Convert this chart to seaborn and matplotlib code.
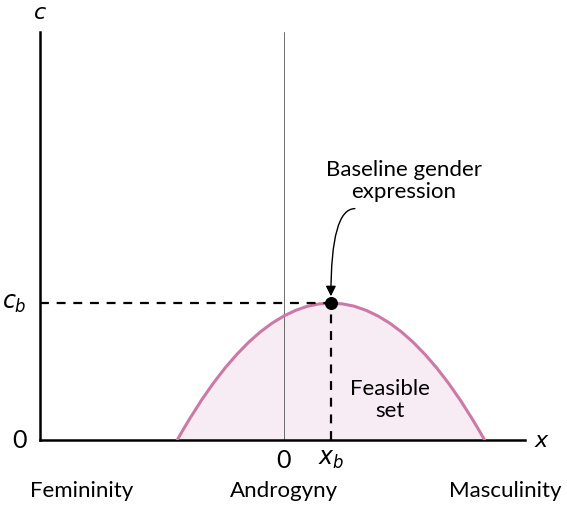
import numpy as np
import pandas as pd
import matplotlib.pyplot as plt
import seaborn as sns

# feasible set boundary (x_b = 1, c_b = 1)
x_vals = [-2.27, -2.15, -2.0, -1.75, -1.5, -1.25, -1.0, -0.75, -0.5, -0.25, 0.0, 0.25, 0.5, 0.75,
          1.0, 1.25, 1.5, 1.75, 2.0, 2.25, 2.5, 2.75, 3.0, 3.25, 3.5, 3.75, 4.0, 4.15, 4.27]
c_vals = [0.0, 0.072, 0.158, 0.293, 0.416, 0.527, 0.626, 0.714, 0.790, 0.854, 0.906, 0.947, 0.977, 0.994,
          1.0, 0.994, 0.977, 0.947, 0.906, 0.854, 0.790, 0.714, 0.626, 0.527, 0.416, 0.293, 0.158, 0.072, 0.0]
x_b = 1.0
c_b = 1.0
x_lim = (-5.19, 5.13)
c_lim = (0, 2.98)
pole_labels = ["Femininity", "Androgyny", "Masculinity"]
pole_pos = [-4.3, 0.0, 4.7]

sns.set_style("white")
plt.rcParams["font.family"] = ["Lato", "DejaVu Sans"]
plt.rcParams["mathtext.fontset"] = "dejavusans"
plt.rcParams["text.color"] = "black"

df = pd.DataFrame({"x": x_vals, "c": c_vals})

fig = plt.figure(figsize=(5.67, 5.06), dpi=100)
ax = fig.add_axes([40 / 567, 65 / 506, 485 / 567, 408 / 506])

line_col = "#cc79a7"
ax.fill_between(df["x"], 0, df["c"], color="#f7ecf3", zorder=1)
sns.lineplot(data=df, x="x", y="c", color=line_col, lw=2.2, ax=ax, zorder=3, sort=False)

ax.axvline(0, color="#555555", lw=0.6, zorder=2)
ax.plot([x_lim[0], x_b], [c_b, c_b], ls=(0, (4, 3.5)), color="black", lw=1.6, zorder=4)
ax.plot([x_b, x_b], [0, c_b], ls=(0, (4, 3.5)), color="black", lw=1.6, zorder=4)
ax.scatter([x_b], [c_b], s=70, color="black", zorder=5)

ax.set_xlim(*x_lim)
ax.set_ylim(*c_lim)
ax.set_xticks([])
ax.set_yticks([])
ax.set_xlabel("")
ax.set_ylabel("")
sns.despine(ax=ax)
for s in ["left", "bottom"]:
    ax.spines[s].set_linewidth(1.8)
    ax.spines[s].set_color("black")

fs = 16
ax.text(x_lim[0], c_lim[1] + 0.07, "$c$", ha="center", va="bottom", fontsize=fs)
ax.text(x_lim[1] + 0.2, 0, "$x$", ha="left", va="center", fontsize=fs)
ax.text(x_lim[0] - 0.28, c_b, "$c_b$", ha="right", va="center", fontsize=17)
ax.text(x_lim[0] - 0.28, 0, "0", ha="right", va="center", fontsize=18)
ax.text(0, -0.06, "0", ha="center", va="top", fontsize=18)
ax.text(x_b, -0.06, "$x_b$", ha="center", va="top", fontsize=17)
for lab, p in zip(pole_labels, pole_pos):
    ax.text(p, -0.29, lab, ha="center", va="top", fontsize=fs)

ax.text(2.26, 0.30, "Feasible\nset", ha="center", va="center", fontsize=fs, linespacing=1.15)

ax.text(2.55, 1.9, "Baseline gender\nexpression", ha="center", va="center", fontsize=fs, linespacing=1.15)
ax.annotate("", xy=(x_b, c_b + 0.05), xytext=(1.51, 1.69),
            arrowprops=dict(arrowstyle="-|>,head_length=0.6,head_width=0.3", color="black", lw=1.0,
                            connectionstyle="angle3,angleA=0,angleB=90",
                            shrinkA=0, shrinkB=0))

fig.savefig("out.png", dpi=100)
